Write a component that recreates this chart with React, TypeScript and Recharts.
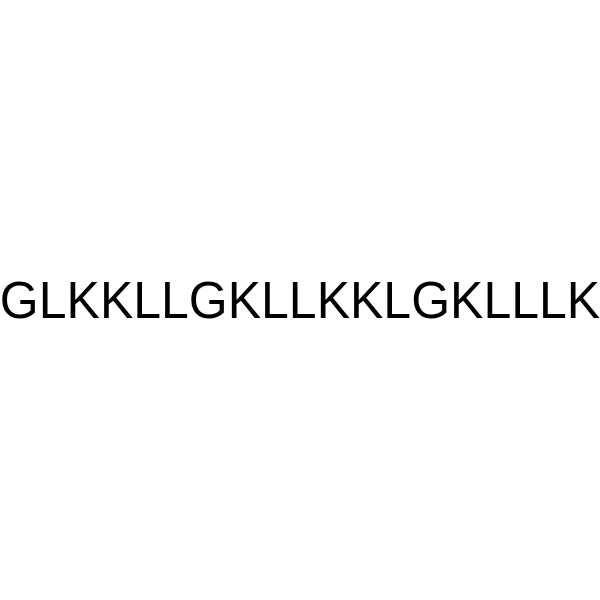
import React from "react";
import { LineChart, Customized, Text } from "recharts";

// the sequence label drawn across the middle of the canvas
const SEQUENCE = "GLKKLLGKLLKKLGKLLLK";
const rows: { x: number }[] = [];

function SequenceLabel() {
  return (
    <g transform="translate(0,317.5) scale(1,1.035)">
      <Text
        x={300}
        y={0}
        textAnchor="middle"
        verticalAnchor="end"
        fontFamily="'Liberation Sans', Arial, sans-serif"
        fontSize={50}
        fill="#000000"
      >
        {SEQUENCE}
      </Text>
    </g>
  );
}

export default function App() {
  return (
    <div style={{ position: "absolute", left: 0, top: 0, width: 600, height: 600, background: "#ffffff" }}>
      <LineChart width={600} height={600} data={rows} margin={{ top: 0, right: 0, bottom: 0, left: 0 }}>
        <Customized component={SequenceLabel} />
      </LineChart>
    </div>
  );
}
